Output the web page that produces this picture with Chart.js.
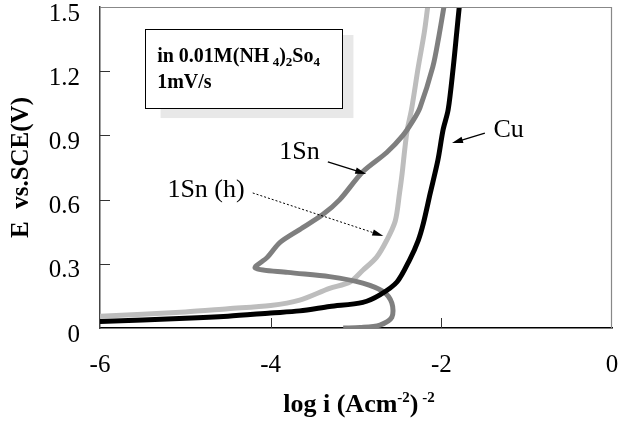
<!DOCTYPE html>
<html>
<head>
<meta charset="utf-8">
<script src="https://cdn.jsdelivr.net/npm/chart.js@4/dist/chart.umd.min.js"></script>
<style>
  html, body { margin: 0; padding: 0; background: #fff; }
</style>
</head>
<body>
<canvas id="canvas" width="619" height="421"></canvas>
<script>
// polarisation curves, log i vs E
var cuLogI = [-6, -5, -4.5, -4, -3.66, -3.31, -2.92, -2.72, -2.52, -2.37, -2.27, -2.21, -2.13, -2.04, -1.98, -1.92, -1.86, -1.82, -1.79];
var cuE    = [0.03, 0.045, 0.055, 0.07, 0.08, 0.1, 0.12, 0.155, 0.215, 0.32, 0.41, 0.49, 0.63, 0.785, 0.925, 1.02, 1.22, 1.38, 1.5];

var snLogI = [-3.15, -2.95, -2.72, -2.58, -2.58, -2.68, -2.92, -3.31, -3.8, -4.18, -4.04, -3.89, -3.66, -3.39, -3.19, -2.92, -2.64, -2.45, -2.33, -2.25, -2.1, -2.03, -1.97];
var snE    = [0, 0.002, 0.014, 0.05, 0.117, 0.17, 0.21, 0.24, 0.26, 0.28, 0.33, 0.4, 0.46, 0.53, 0.6, 0.73, 0.82, 0.9, 0.97, 1.03, 1.22, 1.36, 1.5];

var snhLogI = [-6, -5, -4.5, -4, -3.66, -3.31, -3.07, -2.92, -2.76, -2.64, -2.54, -2.49, -2.46, -2.43, -2.4, -2.35, -2.27, -2.2, -2.16];
var snhE    = [0.055, 0.075, 0.09, 0.105, 0.13, 0.185, 0.215, 0.27, 0.33, 0.41, 0.5, 0.63, 0.72, 0.83, 0.925, 1.02, 1.22, 1.38, 1.5];

var xTicks = [-6, -4, -2, 0];
var yTicks = [0, 0.3, 0.6, 0.9, 1.2, 1.5];

function pts(xs, ys) {
    var out = [];
    for (var i = 0; i < xs.length; i++) out.push({ x: xs[i], y: ys[i] });
    return out;
}

var SERIF = '"Liberation Serif", "Times New Roman", serif';

function arrow(ctx, x0, y0, x1, y1, dashed) {
    var a = Math.atan2(y1 - y0, x1 - x0);
    ctx.save();
    ctx.strokeStyle = '#000';
    ctx.fillStyle = '#000';
    ctx.lineWidth = dashed ? 1 : 1.3;
    if (dashed) ctx.setLineDash([2, 2]);
    ctx.beginPath();
    ctx.moveTo(x0, y0);
    ctx.lineTo(x1 - 6 * Math.cos(a), y1 - 6 * Math.sin(a));
    ctx.stroke();
    ctx.setLineDash([]);
    ctx.beginPath();
    ctx.moveTo(x1, y1);
    ctx.lineTo(x1 - 11 * Math.cos(a) + 3.2 * Math.sin(a), y1 - 11 * Math.sin(a) - 3.2 * Math.cos(a));
    ctx.lineTo(x1 - 11 * Math.cos(a) - 3.2 * Math.sin(a), y1 - 11 * Math.sin(a) + 3.2 * Math.cos(a));
    ctx.closePath();
    ctx.fill();
    ctx.restore();
}

// draws pieces [text, size, rise] one after another
function richText(ctx, parts, x, y, bold) {
    var cx = x;
    parts.forEach(function (p) {
        ctx.font = (bold ? 'bold ' : '') + p[1] + 'px ' + SERIF;
        ctx.fillText(p[0], cx, y - p[2]);
        cx += ctx.measureText(p[0]).width;
    });
    return cx - x;
}
function richWidth(ctx, parts, bold) {
    var w = 0;
    parts.forEach(function (p) {
        ctx.font = (bold ? 'bold ' : '') + p[1] + 'px ' + SERIF;
        w += ctx.measureText(p[0]).width;
    });
    return w;
}

function noPad(s) {
    s.paddingTop = 0; s.paddingBottom = 0; s.paddingLeft = 0; s.paddingRight = 0;
}

var notes = {
    id: 'notes',
    afterDraw: function (chart) {
        var ctx = chart.ctx, xs = chart.scales.x, ys = chart.scales.y, a = chart.chartArea;
        var X = function (v) { return xs.getPixelForValue(v); };
        var Y = function (v) { return ys.getPixelForValue(v); };
        ctx.save();

        // frame top / right
        ctx.strokeStyle = '#888';
        ctx.lineWidth = 1.2;
        ctx.beginPath();
        ctx.moveTo(a.left, a.top + 0.5);
        ctx.lineTo(a.right - 0.5, a.top + 0.5);
        ctx.lineTo(a.right - 0.5, a.bottom);
        ctx.stroke();

        // inner tick marks
        ctx.strokeStyle = '#333';
        ctx.lineWidth = 1;
        yTicks.slice(1, -1).forEach(function (v) {
            ctx.beginPath();
            ctx.moveTo(a.left, Math.round(Y(v)) + 0.5);
            ctx.lineTo(a.left + 10, Math.round(Y(v)) + 0.5);
            ctx.stroke();
        });
        xTicks.slice(1, -1).forEach(function (v) {
            ctx.beginPath();
            ctx.moveTo(Math.round(X(v)) + 0.5, a.bottom);
            ctx.lineTo(Math.round(X(v)) + 0.5, a.bottom - 10);
            ctx.stroke();
        });

        // text box with shadow
        ctx.fillStyle = '#e8e8e8';
        ctx.fillRect(X(-5.29), Y(1.369), X(-3.03) - X(-5.29), Y(0.981) - Y(1.369));
        ctx.fillStyle = '#fff';
        ctx.fillRect(X(-5.47), Y(1.397), X(-3.16) - X(-5.47), Y(1.028) - Y(1.397));
        ctx.strokeStyle = '#000';
        ctx.lineWidth = 1;
        ctx.strokeRect(Math.round(X(-5.47)) + 0.5, Math.round(Y(1.397)) + 0.5,
            Math.round(X(-3.16) - X(-5.47)), Math.round(Y(1.028) - Y(1.397)));
        ctx.fillStyle = '#000';
        ctx.textBaseline = 'alphabetic';
        ctx.textAlign = 'left';
        richText(ctx, [['in 0.01M(NH', 20, 0], [' 4', 13, -4], [')', 20, 0], ['2', 13, -4], ['So', 20, 0], ['4', 13, -4]],
            X(-5.33), Y(1.243), true);
        richText(ctx, [['1mV/s', 20, 0]], X(-5.33), Y(1.121), true);

        // series labels
        ctx.font = '26px ' + SERIF;
        ctx.textBaseline = 'middle';
        ctx.fillText('1Sn', X(-3.9), Y(0.822));
        ctx.fillText('1Sn (h)', X(-5.21), Y(0.645));
        ctx.fillText('Cu', X(-1.39), Y(0.925));
        arrow(ctx, X(-3.33), Y(0.776), X(-2.88), Y(0.72), false);
        arrow(ctx, X(-1.49), Y(0.911), X(-1.875), Y(0.864), false);
        arrow(ctx, X(-4.21), Y(0.631), X(-2.68), Y(0.43), true);

        // axis titles
        ctx.textBaseline = 'alphabetic';
        var xt = [['log i (Acm', 26, 0], ['-2', 15, 10], [')', 26, 0], [' -2', 15, 10]];
        var w = richWidth(ctx, xt, true);
        richText(ctx, xt, (a.left + a.right) / 2 + 3 - w / 2, 412, true);

        ctx.translate(28, (a.top + a.bottom) / 2);
        ctx.rotate(-Math.PI / 2);
        ctx.textAlign = 'center';
        ctx.font = 'bold 25px ' + SERIF;
        ctx.fillText('E  vs.SCE(V)', 0, 0);
        ctx.restore();
    }
};

var ctx = document.getElementById('canvas');
var myChart = new Chart(ctx, {
    type: 'scatter',
    data: {
        datasets: [
            {
                label: 'Cu',
                data: pts(cuLogI, cuE),
                showLine: true,
                borderColor: '#000000',
                borderWidth: 5,
                pointRadius: 0,
                tension: 0.3
            },
            {
                label: '1Sn',
                data: pts(snLogI, snE),
                showLine: true,
                borderColor: '#7f7f7f',
                borderWidth: 5,
                pointRadius: 0,
                tension: 0.3
            },
            {
                label: '1Sn (h)',
                data: pts(snhLogI, snhE),
                showLine: true,
                borderColor: '#bdbdbd',
                borderWidth: 5,
                pointRadius: 0,
                tension: 0.3
            }
        ]
    },
    options: {
        responsive: false,
        animation: false,
        devicePixelRatio: 1,
        layout: { padding: { top: 7, right: 7, left: 0, bottom: 0 } },
        plugins: {
            legend: { display: false },
            tooltip: { enabled: false }
        },
        scales: {
            x: {
                type: 'linear',
                min: -6,
                max: 0,
                afterBuildTicks: function (s) { s.ticks = xTicks.map(function (v) { return { value: v }; }); },
                afterFit: function (s) { s.height = 93; noPad(s); },
                ticks: {
                    font: { family: SERIF, size: 25 },
                    color: '#000',
                    padding: 22,
                    maxRotation: 0,
                    callback: function (v) { return String(v); }
                },
                grid: { display: false, drawTicks: false },
                border: { display: true, color: '#000', width: 1.5 }
            },
            y: {
                min: 0,
                max: 1.5,
                afterBuildTicks: function (s) { s.ticks = yTicks.map(function (v) { return { value: v }; }); },
                afterFit: function (s) { s.width = 100; noPad(s); },
                ticks: {
                    font: { family: SERIF, size: 25 },
                    color: '#000',
                    padding: 20,
                    labelOffset: 7,
                    callback: function (v) { return v === 0 ? '0' : v.toFixed(1); }
                },
                grid: { display: false, drawTicks: false },
                border: { display: true, color: '#444', width: 1.5 }
            }
        }
    },
    plugins: [notes]
});
</script>
</body>
</html>
